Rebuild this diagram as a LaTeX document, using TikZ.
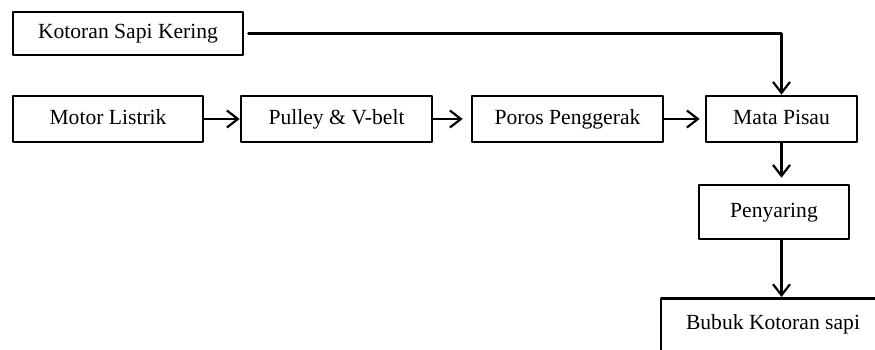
\documentclass[tikz,border=0pt]{standalone}
\usepackage{fontspec}
\setmainfont{Liberation Serif}
\usetikzlibrary{arrows.meta}

\tikzset{
  blok/.style={draw, line width=2.6pt, minimum height=46pt, inner sep=0pt, text height=15pt, text depth=5pt, font=\fontsize{21.6}{26}\selectfont},
  alur/.style={->, line width=2.2pt},
}

\begin{document}
\begin{tikzpicture}[x=1pt, y=-1pt, line cap=round, line join=round, >={Straight Barb[length=11pt, width=17pt]}]
\useasboundingbox (0,0) rectangle (875,349);

% kotak proses
\node[blok, minimum width=230pt, minimum height=43pt] (kering) at (128,33.5) {Kotoran Sapi Kering};
\node[blok, minimum width=190pt] (motor) at (108,119) {Motor Listrik};
\node[blok, minimum width=191pt] (pulley) at (336.5,119) {Pulley \& V-belt};
\node[blok, minimum width=191pt] (poros) at (567.5,119) {Poros Penggerak};
\node[blok, minimum width=151pt] (pisau) at (781.5,119) {Mata Pisau};
\node[blok, minimum width=150pt, minimum height=54pt] (saring) at (774,212) {Penyaring};
\node[blok, anchor=north, minimum width=224pt, text height=31pt, text depth=40pt] (bubuk) at (773,297) {Bubuk Kotoran sapi};

% aliran
\draw[alur] ([xshift=4pt]kering.east) -| (pisau.north);
\draw[alur] (motor) -- (pulley);
\draw[alur, shorten >=8pt] (pulley) -- (poros);
\draw[alur, shorten >=5pt] (poros) -- (pisau);
\draw[alur, shorten >=6pt] (pisau.south) -- (pisau.south |- saring.north);
\draw[alur] (pisau.south |- saring.south) -- (pisau.south |- bubuk.north);

\end{tikzpicture}
\end{document}
